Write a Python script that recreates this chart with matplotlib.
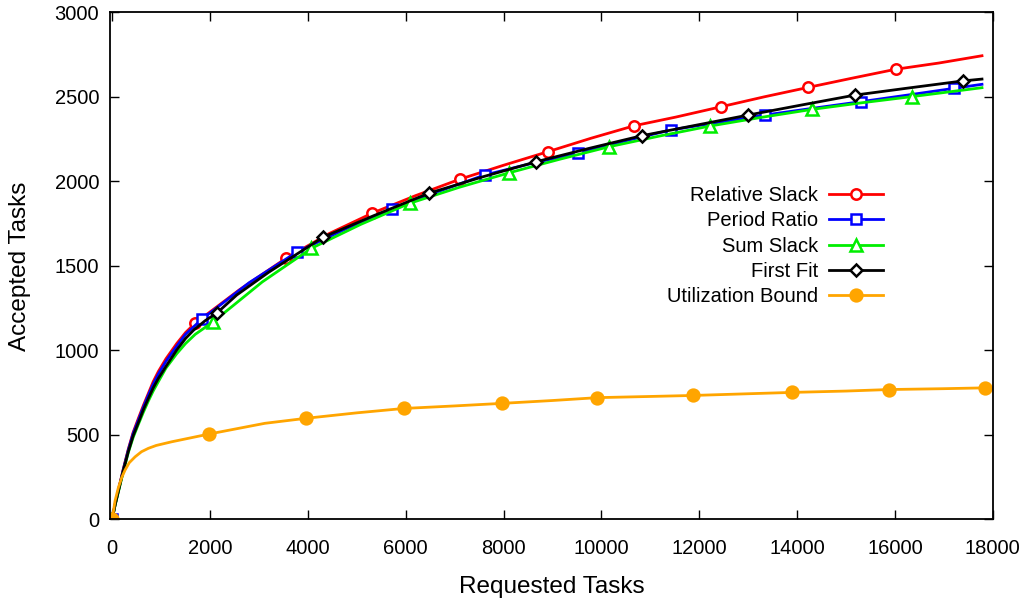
import numpy as np
import matplotlib
matplotlib.use("Agg")
import matplotlib.pyplot as plt

plt.rcParams['font.family'] = ['Liberation Sans', 'DejaVu Sans']

# ---- data ----
rs_x = [0, 60, 130, 230, 330, 430, 540, 640, 740, 840, 945, 1100, 1320, 1500, 1694, 2600,
        3551, 4430, 5312, 6200, 7102, 8000, 8904, 9790, 10673, 11520, 12443, 13330, 14231,
        15120, 16014, 16900, 17780]
rs_y = [0, 88, 175, 300, 415, 515, 600, 675, 745, 815, 875, 950, 1040, 1105, 1160, 1358,
        1544, 1690, 1811, 1915, 2012, 2095, 2175, 2255, 2329, 2380, 2441, 2500, 2556,
        2610, 2663, 2700, 2743]
rs_mark = [0, 1694, 3551, 5312, 7102, 8904, 10673, 12443, 14231, 16014]

pr_x = [0, 60, 130, 230, 330, 430, 540, 640, 740, 840, 945, 1100, 1320, 1500, 1830, 2800,
        3769, 4750, 5721, 6670, 7612, 8560, 9517, 10470, 11422, 12380, 13341, 14320, 15299,
        16250, 17204, 17780]
pr_y = [0, 86, 172, 297, 410, 508, 590, 665, 735, 800, 860, 935, 1025, 1095, 1183, 1400,
        1580, 1715, 1834, 1940, 2037, 2105, 2166, 2238, 2304, 2348, 2392, 2432, 2471,
        2510, 2550, 2574]
pr_mark = [0, 1830, 3769, 5721, 7612, 9517, 11422, 13341, 15299, 17204]

ss_x = [0, 60, 130, 230, 330, 430, 540, 640, 740, 840, 945, 1100, 1320, 1500, 1700, 2067,
        3070, 4075, 5080, 6082, 7100, 8122, 9140, 10163, 11190, 12218, 13260, 14313, 15330,
        16340, 17780]
ss_y = [0, 83, 165, 285, 395, 485, 565, 635, 700, 760, 815, 895, 980, 1040, 1095, 1169,
        1405, 1604, 1745, 1870, 1965, 2051, 2130, 2205, 2268, 2327, 2378, 2426, 2465,
        2501, 2554]
ss_mark = [0, 2067, 4075, 6082, 8122, 10163, 12218, 14313, 16340]

ff_x = [0, 60, 130, 230, 330, 430, 540, 640, 740, 840, 945, 1100, 1320, 1500, 1660, 1900,
        2150, 2545, 3200, 4310, 5350, 6470, 7580, 8670, 9750, 10830, 11900, 13000, 14100,
        15180, 16300, 17390, 17780]
ff_y = [0, 85, 170, 290, 400, 495, 575, 650, 715, 778, 834, 905, 1002, 1070, 1118, 1175,
        1223, 1327, 1462, 1669, 1797, 1929, 2027, 2116, 2195, 2270, 2330, 2392, 2452,
        2510, 2553, 2594, 2605]
ff_mark = [0, 2150, 4310, 6470, 8670, 10830, 13000, 15180, 17390]

ub_x = [0, 60, 130, 200, 265, 350, 470, 600, 740, 900, 1220, 1970, 2580, 3120, 3970, 5000,
        5960, 7000, 7960, 9000, 9920, 11000, 11880, 13000, 13900, 15000, 15880, 17000, 17850]
ub_y = [0, 110, 190, 250, 292, 335, 370, 400, 420, 437, 459, 504, 538, 568, 598, 630,
        656, 671, 686, 703, 720, 727, 733, 743, 751, 759, 768, 773, 778]
ub_mark = [0, 1970, 3970, 5960, 7960, 9920, 11880, 13900, 15880, 17850]

labels = ["Relative Slack", "Period Ratio", "Sum Slack", "First Fit", "Utilization Bound"]
x_ticks = list(range(0, 18001, 2000))
y_ticks = list(range(0, 3001, 500))

# ---- figure ----
fig = plt.figure(figsize=(10.34, 6.01), dpi=100)
ax = fig.add_axes([0.1067, 0.1359, 0.8534, 0.8436])

series = [
    (rs_x, rs_y, rs_mark, '#ff0000', 'o', 'white', 7.5),
    (pr_x, pr_y, pr_mark, '#0000ff', 's', 'white', 7.5),
    (ss_x, ss_y, ss_mark, '#00ee00', '^', 'white', 8.0),
    (ff_x, ff_y, ff_mark, '#000000', 'D', 'white', 6.5),
    (ub_x, ub_y, ub_mark, '#ffa500', 'o', '#ffa500', 8.5),
]

for (xs, ys, marks, col, mk, mfc, ms), lab in zip(series, labels):
    xs = np.asarray(xs)
    idx = [int(i) for i in np.where(np.isin(xs, marks))[0]]
    ax.plot(xs, ys, color=col, lw=2.0, marker=mk, markevery=idx,
            markerfacecolor=mfc, markeredgecolor=col, markeredgewidth=1.8,
            markersize=ms, label=lab, solid_joinstyle='round')

ax.set_xlim(-37, 18000)
ax.set_ylim(0, 3000)
ax.set_xticks(x_ticks)
ax.set_yticks(y_ticks)
ax.tick_params(direction='in', top=True, right=True, length=6.5, width=1.0,
               labelsize=14.5, color='black')
ax.tick_params(axis='x', pad=14)
ax.tick_params(axis='y', pad=8)
for sp in ax.spines.values():
    sp.set_linewidth(1.3)

ax.set_xlabel("Requested Tasks", fontsize=17.5, labelpad=13)
ax.set_ylabel("Accepted Tasks", fontsize=17.5, labelpad=17)

leg = ax.legend(loc='upper right', bbox_to_anchor=(0.876, 0.657), frameon=False,
                markerfirst=False, fontsize=14.5, handlelength=2.7, handletextpad=0.55,
                labelspacing=0.31, borderpad=0, borderaxespad=0)

fig.savefig("out.png", dpi=100)
